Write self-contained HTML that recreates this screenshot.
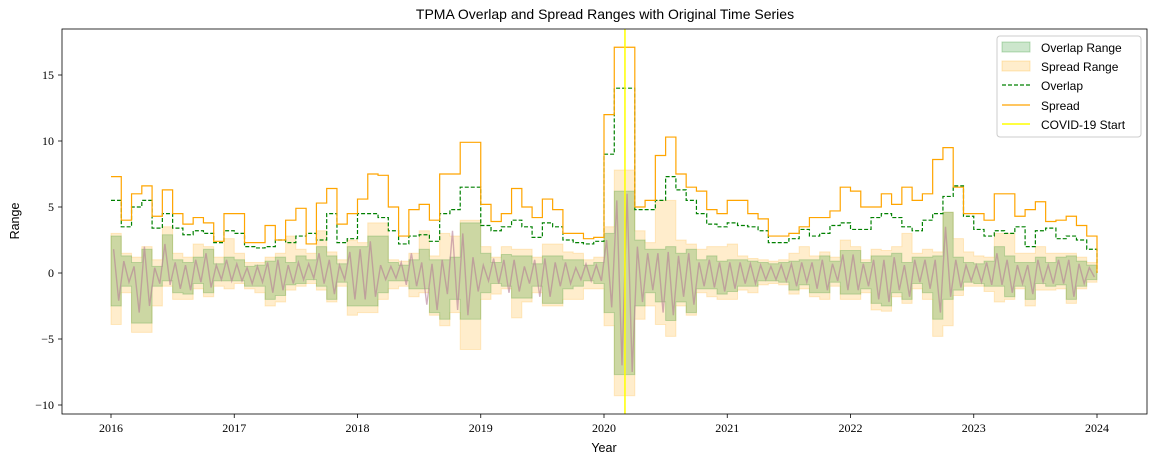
<!DOCTYPE html>
<html><head><meta charset="utf-8"><style>
body{margin:0;background:#fff;}
svg text{font-family:"Liberation Sans","DejaVu Sans",sans-serif;}
.tk{font-family:"Liberation Serif",serif;font-size:12px;fill:#000;}
</style></head><body>
<svg id="chart" width="1157" height="464" viewBox="0 0 1157 464" xmlns="http://www.w3.org/2000/svg">
<rect x="0" y="0" width="1157" height="464" fill="#fff"/>
<text x="605" y="19" text-anchor="middle" font-size="14">TPMA Overlap and Spread Ranges with Original Time Series</text>
<text x="604" y="452" text-anchor="middle" font-size="12.5">Year</text>
<text x="19" y="221" text-anchor="middle" font-size="12.5" transform="rotate(-90 19 221)">Range</text>
<g id="plot"></g>
<g id="axes"></g>
<g id="legend">
<rect x="997" y="36" width="144" height="101" rx="3" fill="#fff" fill-opacity="0.85" stroke="#ccc"/>
<rect x="1002" y="42" width="28" height="10" fill="rgba(0,128,0,0.2)" stroke="rgba(0,128,0,0.25)"/>
<text x="1041" y="52" font-size="12">Overlap Range</text>
<rect x="1002" y="61" width="28" height="10" fill="rgba(255,165,0,0.2)" stroke="rgba(255,165,0,0.25)"/>
<text x="1041" y="71" font-size="12">Spread Range</text>
<line x1="1002" y1="85" x2="1030" y2="85" stroke="green" stroke-width="1.2" stroke-dasharray="4,2"/>
<text x="1041" y="90" font-size="12">Overlap</text>
<line x1="1002" y1="105" x2="1030" y2="105" stroke="orange" stroke-width="1.2"/>
<text x="1041" y="110" font-size="12">Spread</text>
<line x1="1002" y1="124" x2="1030" y2="124" stroke="yellow" stroke-width="1.5"/>
<text x="1041" y="129" font-size="12">COVID-19 Start</text>
</g>
</svg>
<script>
const xTicks = [2016,2017,2018,2019,2020,2021,2022,2023,2024];
const yTicks = [-10,-5,0,5,10,15];
const startYear = 2016;
const covidStart = 2020.17;
const spread = [7.3,4.0,6.0,6.6,4.3,6.3,4.5,3.7,4.2,3.8,2.4,4.5,
4.5,2.3,2.3,3.6,2.5,4.0,4.9,2.2,5.3,6.4,3.7,4.5,
5.6,7.5,7.4,5.0,2.8,4.8,5.2,4.0,7.5,7.5,9.9,9.9,
5.2,3.9,4.5,6.4,5.0,4.2,5.6,4.8,3.0,3.0,2.6,2.7,
12,17.1,17.1,5.0,5.5,8.9,10.3,7.5,6.5,6.2,4.8,4.5,
5.5,5.5,4.5,4.1,2.8,2.8,3.0,3.5,4.2,4.2,4.7,6.5,
6.2,5.0,5.0,6.0,5.2,6.5,5.5,6.0,8.6,9.5,6.5,4.5,
4.5,4.0,6.0,6.0,4.3,4.8,5.4,3.9,4.0,4.3,3.6,2.8];
const overlap = [5.5,3.5,5.0,5.5,3.4,4.5,3.4,2.9,3.2,3.0,2.3,3.2,
3.0,2.0,1.9,2.0,2.5,2.3,2.8,3.0,2.5,4.5,2.3,2.6,
4.5,4.5,4.2,3.2,2.2,2.8,2.9,2.4,4.5,4.8,6.5,6.5,
3.6,3.2,3.5,4.0,3.5,2.7,3.8,3.5,2.5,2.3,2.2,2.4,
9,14,14,4.8,4.8,5.5,7.3,6.3,5.5,4.5,3.7,3.5,
3.8,3.6,3.5,3.2,2.3,2.3,2.6,3.3,2.8,3.0,3.6,3.8,
3.3,3.3,4.2,4.5,4.2,3.5,3.2,4.0,4.5,5.8,6.6,4.3,
3.3,2.8,3.2,3.0,3.5,2.0,3.2,3.4,2.6,2.8,2.5,1.8];
const overlapHi = [2.8,1.3,0.8,1.8,0.5,2.9,1.0,0.8,1.2,1.8,0.7,1.2,
1.0,0.5,0.6,0.9,1.2,0.8,1.3,1.0,2.0,1.3,0.7,2.0,
2.0,2.8,2.8,0.8,0.6,1.0,1.8,1.0,1.0,1.2,3.8,3.8,
1.5,0.8,1.4,1.3,1.3,0.7,1.3,1.3,1.0,1.0,0.6,0.8,
3.0,6.2,6.2,2.5,1.8,1.8,2.0,1.5,1.8,1.0,1.3,0.9,
1.0,1.0,0.9,0.8,0.7,0.8,0.9,1.0,1.0,1.3,0.9,1.7,
1.7,0.8,1.3,1.3,1.5,0.8,1.2,1.2,1.3,4.6,1.2,0.8,
0.7,0.9,2.0,1.3,0.8,0.8,1.2,0.8,1.2,1.3,0.9,0.6];
const overlapLo = [-2.5,-1.0,-3.8,-3.8,-1.0,-0.6,-1.5,-1.6,-0.8,-1.5,-0.6,-0.6,
-0.6,-1.0,-1.0,-2.0,-1.7,-0.9,-0.8,-0.5,-1.0,-2.0,-0.7,-2.5,
-2.5,-2.5,-1.5,-0.6,-0.6,-1.2,-1.2,-3.0,-3.5,-2.0,-3.5,-3.5,
-1.5,-0.8,-1.0,-1.9,-1.9,-1.0,-2.3,-2.3,-1.2,-1.0,-0.6,-0.8,
-3.0,-7.7,-7.7,-2.5,-1.5,-2.2,-3.6,-2.2,-3.0,-1.2,-1.2,-1.6,
-1.4,-1.0,-1.0,-0.6,-0.6,-0.7,-1.3,-0.9,-1.5,-1.5,-0.7,-1.6,
-1.6,-1.2,-2.3,-2.5,-1.5,-2.0,-0.8,-1.5,-3.5,-2.0,-1.3,-0.7,
-0.8,-1.0,-1.0,-1.8,-1.0,-2.0,-0.8,-1.0,-0.9,-2.0,-1.0,-0.5];
const spreadHi = [3.0,1.5,1.2,2.0,1.0,3.5,1.5,1.2,2.2,2.0,1.2,2.6,
1.5,0.8,0.8,1.2,1.5,2.8,1.8,1.5,3.2,1.6,1.0,2.5,
2.3,3.8,3.8,1.0,0.9,1.5,3.2,1.3,3.0,2.8,4.0,4.0,
2.0,1.2,2.0,1.8,1.8,1.2,2.2,2.2,1.6,1.5,1.0,1.2,
3.5,7.8,7.8,3.2,2.3,5.5,5.5,2.5,2.2,1.8,2.0,2.0,
2.2,1.3,1.1,1.0,0.9,1.0,1.5,2.0,1.3,1.6,1.2,2.5,
2.0,1.0,1.8,1.7,2.0,3.0,1.5,1.8,1.6,4.6,2.6,1.6,
1.3,1.2,3.0,3.0,1.5,1.5,2.0,1.5,1.5,1.5,1.2,0.8];
const spreadLo = [-3.9,-1.5,-4.5,-4.5,-2.5,-1.0,-2.0,-2.0,-1.2,-1.8,-1.0,-1.2,
-0.8,-1.2,-1.5,-2.5,-2.2,-1.3,-1.0,-0.8,-1.3,-2.2,-1.0,-3.2,
-3.0,-3.0,-2.0,-1.2,-1.0,-1.8,-1.5,-3.2,-4.0,-3.0,-5.8,-5.8,
-2.0,-1.6,-1.2,-3.4,-2.2,-1.5,-2.5,-2.5,-2.0,-2.0,-1.2,-1.2,
-4.0,-9.3,-9.3,-3.5,-2.5,-3.9,-4.8,-2.5,-3.2,-1.5,-1.8,-2.0,
-2.0,-1.3,-1.5,-0.9,-0.8,-0.9,-1.6,-1.2,-1.8,-2.0,-1.0,-2.0,
-2.0,-1.5,-2.8,-2.9,-1.8,-2.3,-1.2,-2.0,-4.8,-4.0,-1.7,-1.0,
-1.0,-1.4,-2.2,-2.0,-1.2,-2.5,-1.3,-1.3,-1.2,-2.3,-1.2,-0.7];
const series = [1.8,-2.1,0.9,-0.7,0.5,-3.0,2.0,-2.5,0.4,-0.8,2.2,-0.9,0.8,-1.2,0.6,-1.3,1.0,-0.7,1.5,-1.1,0.6,-0.5,1.0,-0.6,
0.7,-0.6,0.4,-0.8,0.5,-0.7,0.8,-1.5,1.0,-1.3,0.6,-0.8,0.8,-0.5,0.7,-0.4,1.5,-0.8,1.0,-1.6,0.6,-0.5,1.6,-2.0,
1.8,-2.0,2.4,-1.8,0.6,-0.5,0.5,-0.4,0.8,-0.9,1.5,-1.0,0.8,-2.4,0.7,-2.8,1.0,-1.6,3.2,-2.8,3.0,-3.2,1.2,-1.4,
0.6,-0.6,1.1,-0.8,1.0,-1.5,1.0,-1.4,0.5,-0.8,1.0,-1.8,1.1,-1.8,0.8,-1.0,0.8,-0.8,0.4,-0.5,0.7,-0.6,0.6,-0.6,
2.5,-2.6,5.5,-7.0,6.0,-7.5,2.0,-2.2,1.5,-1.3,1.5,-3.0,1.6,-3.2,1.3,-1.8,1.5,-2.4,0.8,-1.0,1.0,-1.1,0.8,-1.4,
0.8,-1.2,0.8,-0.8,0.7,-0.8,0.6,-0.5,0.5,-0.5,0.6,-0.6,0.7,-1.0,0.8,-0.7,0.8,-1.2,1.0,-1.3,0.7,-0.6,1.4,-1.3,
1.4,-1.3,0.7,-1.0,1.0,-2.0,1.0,-2.2,1.2,-1.3,0.6,-1.8,1.0,-0.7,1.0,-1.2,1.0,-3.0,3.5,-1.8,1.0,-1.1,0.6,-0.6,
0.6,-0.7,0.8,-0.9,1.5,-0.9,1.0,-1.5,0.6,-0.8,0.6,-1.6,1.0,-0.7,0.6,-0.8,1.0,-0.8,1.0,-1.8,0.7,-0.8,0.4,-0.3];

const NS='http://www.w3.org/2000/svg';
const L=62,T=29,R=1147,B=414;
function xS(t){return 111+123.25*(t-2016);}
function yS(v){return 273-13.2*v;}
function mk(tag,attrs,parent){const e=document.createElementNS(NS,tag);for(const k in attrs)e.setAttribute(k,attrs[k]);parent.appendChild(e);return e;}
const plot=document.getElementById('plot');
const axes=document.getElementById('axes');
const mt=i=>startYear+i/12;

function bandPath(hi,lo){
  let d='M'+xS(mt(0))+','+yS(hi[0]);
  for(let i=0;i<hi.length;i++){d+=' L'+xS(mt(i))+','+yS(hi[i])+' L'+xS(mt(i+1))+','+yS(hi[i]);}
  for(let i=lo.length-1;i>=0;i--){d+=' L'+xS(mt(i+1))+','+yS(lo[i])+' L'+xS(mt(i))+','+yS(lo[i]);}
  return d+'Z';
}
function stepPath(a){
  let d='';
  for(let i=0;i<a.length;i++){d+=(i?' L':'M')+xS(mt(i))+','+yS(a[i])+' L'+xS(mt(i+1))+','+yS(a[i]);}
  d+=' L'+xS(mt(a.length))+','+yS(0);
  return d;
}
const sb=mk('path',{d:bandPath(spreadHi,spreadLo),fill:'rgba(255,165,0,0.2)',stroke:'rgba(255,165,0,0.2)'},plot);


const ob=mk('path',{d:bandPath(overlapHi,overlapLo),fill:'rgba(0,128,0,0.2)',stroke:'rgba(0,128,0,0.2)'},plot);


let sp='';
series.forEach((v,i)=>{sp+=(i?' L':'M')+xS(startYear+(i+0.5)/24).toFixed(1)+','+yS(v).toFixed(1);});
const sl=mk('path',{d:sp,fill:'none',stroke:'rgba(180,125,150,0.6)','stroke-width':1.4},plot);


const ol=mk('path',{d:stepPath(overlap),fill:'none',stroke:'green','stroke-width':1.2,'stroke-dasharray':'4,2'},plot);


const spl=mk('path',{d:stepPath(spread),fill:'none',stroke:'orange','stroke-width':1.2},plot);


const cv=mk('line',{x1:xS(covidStart),x2:xS(covidStart),y1:T,y2:B,stroke:'yellow','stroke-width':1.5},plot);



const fr=mk('rect',{x:L,y:T,width:R-L,height:B-T,fill:'none',stroke:'#000','stroke-width':0.8},axes);


xTicks.forEach(t=>{
  const x=xS(t);
  const tl=mk('line',{x1:x,x2:x,y1:B,y2:B+4,stroke:'#000','stroke-width':0.8},axes);
  
  
  const tx=mk('text',{x:x,y:B+18,'text-anchor':'middle',class:'tk'},axes);
  tx.textContent=t;
  
  
});
yTicks.forEach(v=>{
  const y=yS(v);
  const tl=mk('line',{x1:L-4,x2:L,y1:y,y2:y,stroke:'#000','stroke-width':0.8},axes);
  
  
  const tx=mk('text',{x:L-8,y:y+4,'text-anchor':'end',class:'tk'},axes);
  tx.textContent=v<0?'\u2212'+(-v):String(v);
  
  
});
</script>
</body></html>
